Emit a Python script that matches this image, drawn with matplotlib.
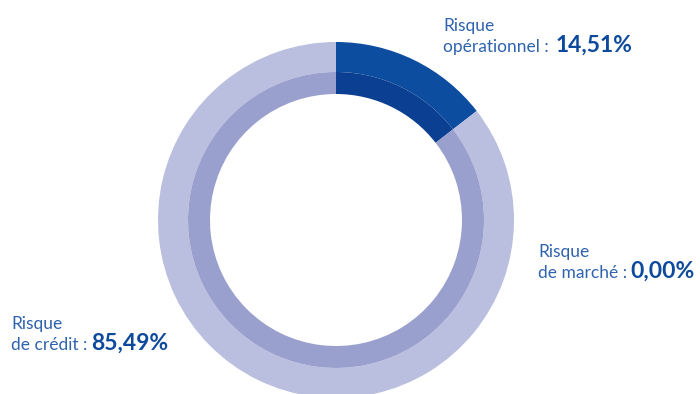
import matplotlib.pyplot as plt

labels = ["Risque\nopérationnel :", "Risque\nde marché :", "Risque\nde crédit :"]
shares = [14.51, 0.00, 85.49]
share_text = ["14,51%", "0,00%", "85,49%"]

outer_colors = ["#0D4DA0", "#BBBFDF", "#BBBFDF"]
inner_colors = ["#0A3F91", "#9AA0CD", "#9AA0CD"]
text_blue = "#2F63AE"
bold_blue = "#0E4A9C"

fig = plt.figure(figsize=(7, 3.94), dpi=100)
ax = fig.add_axes([0, 0, 1, 1])

cx, cy = 336, 174
ax.pie(shares, colors=outer_colors, radius=178, center=(cx, cy), startangle=90,
       counterclock=False, wedgeprops=dict(width=30, linewidth=0), frame=True)
ax.pie(shares, colors=inner_colors, radius=148, center=(cx, cy), startangle=90,
       counterclock=False, wedgeprops=dict(width=22, linewidth=0), frame=True)
ax.set_xlim(0, 700)
ax.set_ylim(0, 394)
ax.set_aspect("equal")
ax.axis("off")

# label spots: left x of text, baseline of first line, right x of number
spots = [(443, 394 - 31, 632), (538, 394 - 257, 695), (11, 394 - 329, 168)]
for lab, num, (x, y, xr) in zip(labels, share_text, spots):
    first, second = lab.split("\n")
    ax.text(x, y, first, fontsize=12.5, family="Lato",
            color=text_blue, va="baseline")
    ax.text(x, y - 21, second, fontsize=12.5, family="Lato",
            color=text_blue, va="baseline")
    ax.text(xr, y - 21, num, fontsize=16.5, family="Lato", weight="bold",
            color=bold_blue, va="baseline", ha="right")

fig.savefig("out.png", dpi=100)
